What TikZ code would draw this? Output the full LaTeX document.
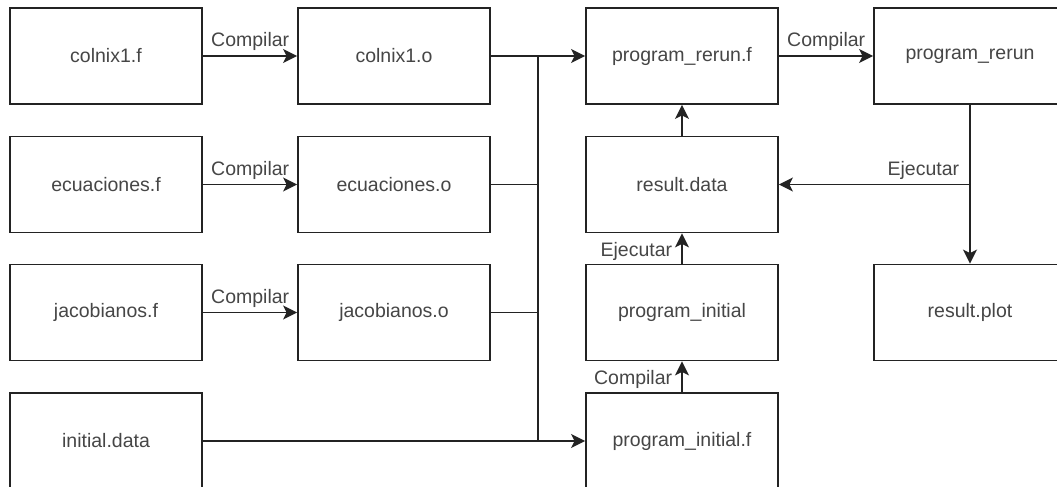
\documentclass[tikz,border=0pt]{standalone}
\usepackage{fontspec}
\setmainfont{Liberation Sans}
\usetikzlibrary{arrows.meta}
\definecolor{linec}{RGB}{35,35,35}
\definecolor{textc}{RGB}{70,70,70}
\tikzset{
  box/.style={draw=linec, line width=1.8pt, rectangle, minimum width=192pt, minimum height=96pt, inner sep=0pt, text=textc, font=\fontsize{19.5}{23}\selectfont},
  conn/.style={draw=linec, line width=1.8pt},
  arr/.style={conn, -{Stealth[length=14pt, width=14pt, inset=3.5pt]}},
  lbl/.style={inner sep=0pt, text=textc, font=\fontsize{19.5}{23}\selectfont},
  hlbl/.style={lbl, pos=1, anchor=base east, xshift=-7pt, yshift=9pt},
  vlbl/.style={lbl, pos=1, anchor=base east, xshift=-9pt, yshift=-23pt}
}
\begin{document}
\begin{tikzpicture}[x=1pt, y=-1pt]
\clip (0,0) rectangle (1057,487);
\fill[white] (0,0) rectangle (1057,487);
% column 1
\node[box] (c1f) at (106,56) {colnix1.f};
\node[box] (ecf) at (106,184.5) {ecuaciones.f};
\node[box] (jaf) at (106,312.5) {jacobianos.f};
\node[box] (ind) at (106,441) {initial.data};
% column 2
\node[box] (c1o) at (394,56) {colnix1.o};
\node[box] (eco) at (394,184.5) {ecuaciones.o};
\node[box] (jao) at (394,312.5) {jacobianos.o};
% column 3
\node[box] (prf) at (682,56) {program\_rerun.f};
\node[box] (rd) at (682,184.5) {result.data};
\node[box] (pi) at (682,312.5) {program\_initial};
\node[box] (pif) at (682,441) {program\_initial.f};
% column 4
\node[box] (pr) at (970,56) {program\_rerun};
\node[box] (rp) at (970,312.5) {result.plot};
% bus
\coordinate (bus) at (538,0);
% compile arrows
\draw[arr] (c1f) -- node[hlbl]{Compilar} (c1o);
\draw[arr] (ecf) -- node[hlbl]{Compilar} (eco);
\draw[arr] (jaf) -- node[hlbl]{Compilar} (jao);
\draw[arr] (prf) -- node[hlbl]{Compilar} (pr);
% links to bus
\draw[arr] (c1o) -- (prf);
\draw[arr] (ind) -- (pif);
\draw[conn] (eco.east) -- (eco.east -| bus);
\draw[conn] (jao.east) -- (jao.east -| bus);
\draw[conn] (c1o.east -| bus) -- (ind.east -| bus);
% vertical arrows
\draw[arr] (pif) -- node[vlbl]{Compilar} (pi);
\draw[arr] (pi) -- node[vlbl]{Ejecutar} (rd);
\draw[arr] (rd) -- (prf);
\draw[arr] (pr) -- (rp);
\coordinate (split) at (pr.south |- rd.east);
\draw[arr] (split) -- node[lbl, pos=0, anchor=base east, xshift=-10pt, yshift=9pt]{Ejecutar} (rd.east);
\end{tikzpicture}
\end{document}
